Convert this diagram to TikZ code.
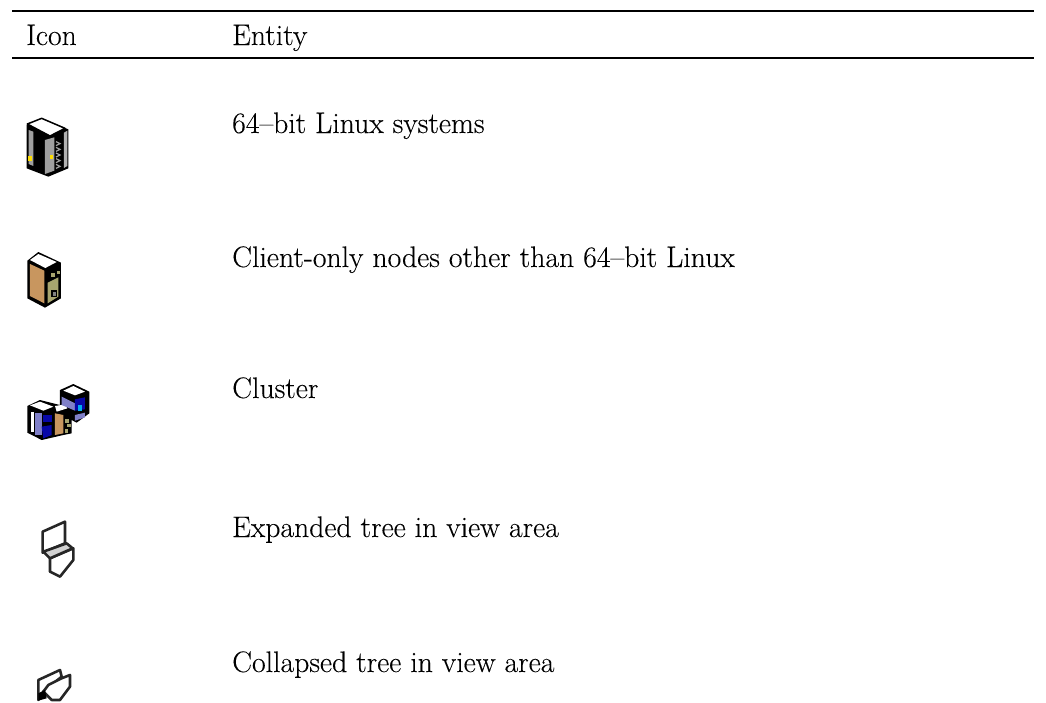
\documentclass[tikz,border=0pt]{standalone}
\usepackage{fontspec}
\newfontface\lblface{Latin Modern Roman}[FakeBold=0.15]
\definecolor{brownface}{HTML}{C8965F}
\definecolor{oliveface}{HTML}{A8A56F}
\definecolor{lav}{HTML}{8080C8}
\definecolor{dblue}{HTML}{0808A8}
\tikzset{
  x=1pt,y=-1pt,
  label text/.style={anchor=base west,inner sep=0pt,font=\lblface\fontsize{29.7}{33}\selectfont,text=black},
  rule line/.style={line width=2pt,black},
  thin ink/.style={draw=black!85,line width=2.6pt,line join=round,line cap=round},
  zoomed/.style={scale=0.3333}
}
\begin{document}
\begin{tikzpicture}
\useasboundingbox[fill=white] (0,0) rectangle (1046,702);
\coordinate (ruleAL) at (12,11); \coordinate (ruleAR) at (1034,11);
\coordinate (ruleBL) at (12,58); \coordinate (ruleBR) at (1034,58);
\draw[rule line] (ruleAL) -- (ruleAR);
\draw[rule line] (ruleBL) -- (ruleBR);
\node[label text] (hicon) at (26,45) {Icon};
\node[label text] (hent) at (232,45) {Entity};
\node[label text] (t1) at (232,133) {64–bit Linux systems};
\node[label text] (t2) at (232,267) {Client-only nodes other than 64–bit Linux};
\node[label text] (t3) at (232,398) {Cluster};
\node[label text] (t4) at (232,537) {Expanded tree in view area};
\node[label text] (t5) at (232,672) {Collapsed tree in view area};
% icon 1
\begin{scope}[shift={(10,100)},zoomed]
\fill[black] (50,75) -- (95,55) -- (175,88) -- (175,205) -- (115,230) -- (50,205) -- cycle;
\fill[gray!75] (56,90) -- (70,95) -- (70,198) -- (56,192) -- cycle;
\fill[gray!75] (105,120) -- (133,112) -- (133,212) -- (105,222) -- cycle;
\fill[gray!60] (162,98) -- (172,92) -- (172,198) -- (162,204) -- cycle;
\foreach \yy in {125,142,159,176,193}
  \draw[gray!75,line width=1.2pt] (138,\yy) -- (150,\yy+6) -- (138,\yy+12);
\fill[yellow!80!orange] (55,167) rectangle (66,184);
\fill[yellow!80!orange] (120,165) rectangle (129,176);
\fill[white,draw=black,line width=1.5pt,line join=round] (52,72) -- (95,55) -- (165,85) -- (120,108) -- cycle;
\end{scope}
% icon 2
\begin{scope}[shift={(10,240)},zoomed]
\fill[black] (52,62) -- (85,36) -- (153,68) -- (153,175) -- (105,203) -- (52,175) -- cycle;
\fill[brownface] (60,72) -- (103,92) -- (103,190) -- (60,168) -- cycle;
\fill[oliveface] (113,128) -- (145,112) -- (145,170) -- (113,190) -- cycle;
\fill[oliveface] (124,100) rectangle (134,110);
\fill[oliveface] (140,92) rectangle (150,102);
\fill[black] (124,150) rectangle (142,172);
\fill[gray] (129,155) rectangle (137,167);
\fill[white] (60,60) -- (85,42) -- (140,66) -- (106,84) -- cycle;
\end{scope}
% icon 3
\begin{scope}[shift={(10,370)},zoomed]
\fill[black] (52,108) -- (90,90) -- (150,105) -- (150,60) -- (190,42) -- (238,65) -- (238,130) -- (200,158) -- (185,150) -- (185,190) -- (160,195) -- (95,210) -- (52,188) -- cycle;
\fill[white] (62,125) rectangle (72,185);
\fill[lav] (76,130) rectangle (95,195);
\fill[dblue] (100,135) rectangle (125,155);
\fill[dblue] (95,170) -- (125,165) -- (125,195) -- (100,205) -- cycle;
\fill[brownface] (135,130) -- (160,135) -- (160,190) -- (135,195) -- cycle;
\fill[oliveface] (165,148) rectangle (178,158);
\fill[oliveface] (172,162) rectangle (184,172);
\fill[oliveface] (164,178) rectangle (174,188);
\fill[white] (60,106) -- (90,95) -- (130,110) -- (100,122) -- cycle;
\fill[white] (135,108) -- (165,103) -- (172,115) -- (140,125) -- cycle;
\fill[lav] (155,80) -- (195,100) -- (195,122) -- (155,105) -- cycle;
\fill[dblue] (195,88) -- (225,82) -- (225,118) -- (195,122) -- cycle;
\fill[cyan] (205,105) rectangle (215,123);
\fill[lav] (195,135) -- (225,128) -- (225,142) -- (195,152) -- cycle;
\fill[white] (160,62) -- (190,48) -- (225,65) -- (195,76) -- cycle;
\end{scope}
% icon 4
\begin{scope}[shift={(10,480)},zoomed]
\draw[thin ink,fill=white] (98,155) -- (165,125) -- (165,190) -- (98,218) -- cycle;
\draw[thin ink,fill=white] (120,235) -- (120,275) -- (150,290) -- (170,265) -- (190,240) -- (190,205) -- cycle;
\draw[thin ink,fill=gray!35] (100,215) -- (170,190) -- (188,205) -- (120,235) -- cycle;
\end{scope}
% icon 5
\begin{scope}[shift={(10,480)},zoomed]
\draw[thin ink,fill=white] (85,660) -- (85,600) -- (150,570) -- (155,590) -- (100,635) -- cycle;
\draw[thin ink,fill=white] (100,635) -- (115,615) -- (155,595) -- (180,585) -- (180,620) -- (150,660) -- (125,660) -- cycle;
\fill[black] (85,640) -- (105,630) -- (110,655) -- (85,662) -- cycle;
\end{scope}
\end{tikzpicture}
\end{document}
